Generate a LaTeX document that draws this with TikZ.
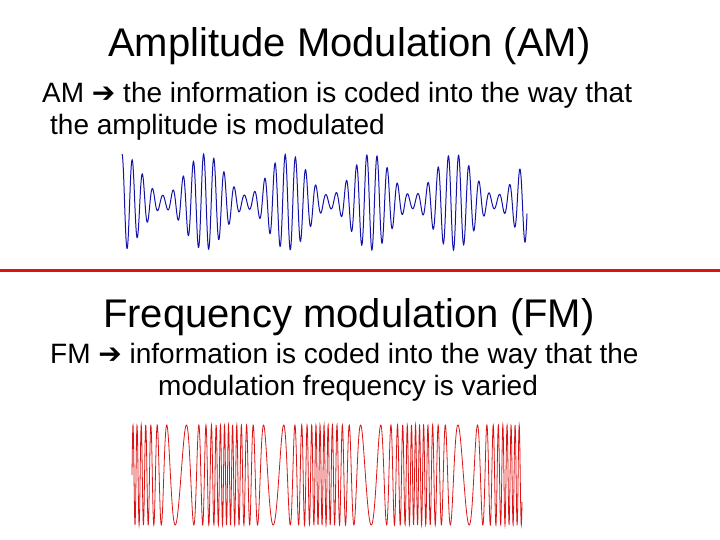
\documentclass[tikz,border=0pt]{standalone}
\usepackage{fontspec}
\setmainfont{Liberation Sans}
\newfontfamily\djv{DejaVu Sans}
\definecolor{amblue}{RGB}{20,20,170}
\definecolor{fmred}{RGB}{220,20,20}
\begin{document}
\begin{tikzpicture}[x=1pt,y=-1pt,
  title/.style={anchor=base west,inner sep=0,font=\fontsize{40}{44}\selectfont},
  body/.style={anchor=base west,inner sep=0,font=\fontsize{28}{32}\selectfont}]
\useasboundingbox (0,0) rectangle (720,540);
\node[title] (t1) at (108,57) {Amplitude Modulation (AM)};
\node[body] (l1) at (42,103) {AM {\djv ➔} the information is coded into the way that};
\node[body] (l2) at (50,135) {the amplitude is modulated};
\draw[amblue,line width=1pt,samples=1400,domain=0:405]
  plot ({122+\x},{202-48*(0.57+0.43*cos((2*pi*\x/83) r))*sin((pi*mod(2*\x/10.2,2)+1.57) r)});
\draw[fmred,line width=3pt] (0,270) -- (720,270);
\node[title] (t2) at (103,327) {Frequency modulation (FM)};
\node[body] (l3) at (50,363) {FM {\djv ➔} information is coded into the way that the};
\node[body] (l4) at (158,395) {modulation frequency is varied};
\draw[fmred,line width=0.8pt,samples=2200,domain=0:390]
  plot ({132+\x},{475-50*sin((pi*mod(0.292*\x,2) + 9.9*sin((2*pi*\x/95) r)) r)});
\end{tikzpicture}
\end{document}
